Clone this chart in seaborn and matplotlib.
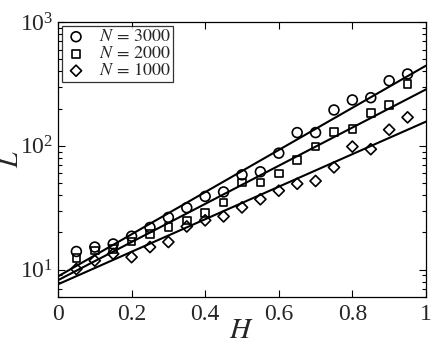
import numpy as np
import pandas as pd
import seaborn as sns
import matplotlib.pyplot as plt

# data
H = [0.05, 0.10, 0.15, 0.20, 0.25, 0.30, 0.35, 0.40, 0.45, 0.50,
     0.55, 0.60, 0.65, 0.70, 0.75, 0.80, 0.85, 0.90, 0.95]
L_3000 = [14.0, 15.2, 16.1, 18.6, 21.9, 26.4, 31.6, 39.0, 42.4, 58.3,
          61.7, 87.3, 128, 128, 195, 235, 245, 336, 381]
L_2000 = [12.4, 14.3, 14.7, 16.9, 19.4, 22.1, 25.0, 28.7, 34.9, 50.6,
          50.6, 59.8, 77, 98.6, 130, 137, 184, 214, 315]
L_1000 = [10.1, 11.8, 13.4, 12.6, 15.2, 16.7, 22.3, 25.0, 26.9, 31.8,
          37.0, 43.4, 49.4, 52.0, 67.0, 98.6, 94.0, 135, 170]

# exponential fits L = L0 * exp(b H), endpoints
N_labels = ["3000", "2000", "1000"]
fit_L0 = [8.8, 8.2, 7.6]
fit_L1 = [445, 286, 157]

sns.set_style("ticks")
plt.rcParams["font.family"] = ["Liberation Serif", "DejaVu Serif"]
plt.rcParams["mathtext.fontset"] = "stix"
plt.rcParams["xtick.direction"] = "in"
plt.rcParams["ytick.direction"] = "in"

fig = plt.figure(figsize=(4.36, 3.46), dpi=100)
ax = fig.add_axes([0.133, 0.1416, 0.844, 0.7944])

series = [L_3000, L_2000, L_1000]
markers = ["o", "s", "D"]
sizes = [50, 30, 32]
for L, m, s, n in zip(series, markers, sizes, N_labels):
    sns.scatterplot(x=H, y=L, marker=m, s=s, facecolors="none", edgecolor="k",
                    linewidth=1.2, label=rf"$N\,=\,{n}$", ax=ax, zorder=3)

h_line = np.linspace(0, 1, 50)
for a, b in zip(fit_L0, fit_L1):
    rate = np.log(b / a)
    sns.lineplot(x=h_line, y=a * np.exp(rate * h_line), color="k", lw=1.5,
                 legend=False, ax=ax)

ax.set_yscale("log")
ax.set_xlim(0, 1)
ax.set_ylim(6, 1000)
ax.set_xticks([0, 0.2, 0.4, 0.6, 0.8, 1])
ax.set_xticklabels(["0", "0.2", "0.4", "0.6", "0.8", "1"])
ax.set_yticks([10, 100, 1000])
ax.tick_params(axis="both", which="both", top=True, right=True, labelsize=17,
               width=0.8, color="k")
ax.tick_params(axis="x", which="major", pad=5)
ax.tick_params(axis="both", which="major", length=5)
ax.tick_params(axis="both", which="minor", length=3)
for sp in ax.spines.values():
    sp.set_color("k")
    sp.set_linewidth(0.9)

ax.set_xlabel(r"$H$", fontsize=21)
ax.set_ylabel(r"$L$", fontsize=20)
ax.xaxis.set_label_coords(0.497, -0.075)
ax.yaxis.set_label_coords(-0.093, 0.5)

leg = ax.legend(loc="upper left", fontsize=13, frameon=True, fancybox=False,
                borderpad=0.15, labelspacing=0.0, handletextpad=0.6,
                handlelength=1.3, borderaxespad=0.2)
leg.get_frame().set_edgecolor("k")
leg.get_frame().set_linewidth(0.9)

fig.savefig("out.png", dpi=100)
